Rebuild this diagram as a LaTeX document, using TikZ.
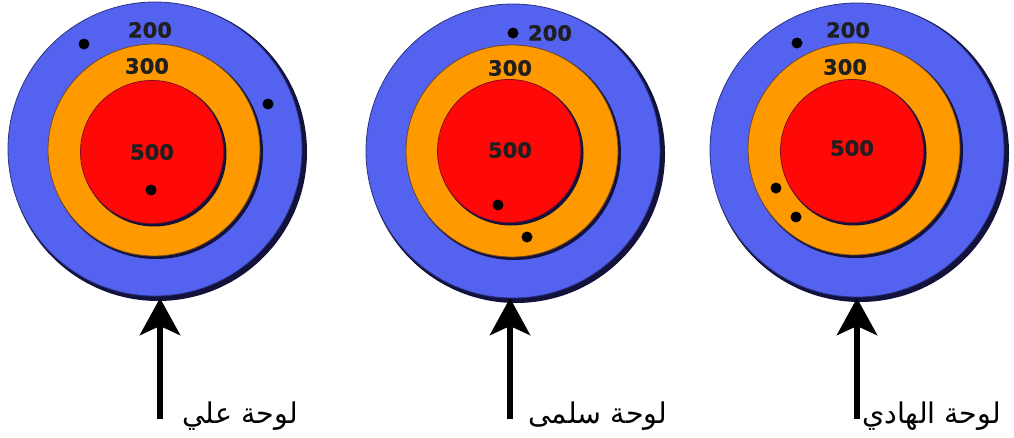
\documentclass[tikz,border=0pt]{standalone}
\usepackage{fontspec}
\usetikzlibrary{arrows.meta}
\TeXXeTstate=1
\newfontfamily\arabicfont[Script=Arabic]{DejaVu Sans}
\newfontfamily\numfont[FakeBold=0.8]{DejaVu Sans Bold}
\definecolor{ringblue}{RGB}{84,98,240}
\definecolor{ringorange}{RGB}{255,153,0}
\definecolor{ringred}{RGB}{255,8,8}
\definecolor{ringshadow}{RGB}{18,18,60}
\begin{document}
\begin{tikzpicture}[x=1pt,y=-1pt,
  blue ring/.style={circle,minimum size=294pt,inner sep=0pt,fill=ringblue,draw=ringshadow!60!ringblue,line width=0.8pt},
  orange ring/.style={circle,minimum size=212pt,inner sep=0pt,fill=ringorange,draw=ringshadow!60!ringorange,line width=0.8pt},
  red ring/.style={circle,minimum size=143pt,inner sep=0pt,fill=ringred,draw=ringshadow!50!ringred,line width=0.8pt},
  shadowdisc/.style={circle,inner sep=0pt,fill=ringshadow},
  score/.style={font=\numfont\fontsize{21}{21}\selectfont,text=black!88,inner sep=0pt},
  hit/.style={circle,fill=black,minimum size=11pt,inner sep=0pt},
  board/.style={font=\arabicfont\fontsize{28.5}{28.5}\selectfont,inner sep=0pt,anchor=base west},
  pointer/.style={line width=6.5pt,-{Stealth[length=37pt,width=40pt,inset=9pt]}}
]
\useasboundingbox (0,0) rectangle (1014,437);
% ---------- target 1 (Ali)
\node[shadowdisc,minimum size=298pt] at (158,152) {};
\node[blue ring] (t1) at (155,149) {};
\node[shadowdisc,minimum size=214pt] at (156,152) {};
\node[orange ring] (o1) at (154,150) {};
\node[shadowdisc,minimum size=145pt] at (154,154) {};
\node[red ring] (r1) at (152,152) {};
\node[score] (s1a) at (150,30) {200};
\node[score] (s1b) at (147,66) {300};
\node[score] (s1c) at (152,152) {500};
\node[hit] (h1a) at (84,44) {};
\node[hit] (h1b) at (268,104) {};
\node[hit] (h1c) at (151,190) {};
% ---------- target 2 (Salma)
\node[shadowdisc,minimum size=298pt] at (516,154) {};
\node[blue ring] (t2) at (513,151) {};
\node[shadowdisc,minimum size=214pt] at (514,153) {};
\node[orange ring] (o2) at (512,151) {};
\node[shadowdisc,minimum size=145pt] at (511,153) {};
\node[red ring] (r2) at (509,151) {};
\node[score] (s2a) at (550,33) {200};
\node[score] (s2b) at (510,68) {300};
\node[score] (s2c) at (510,150) {500};
\node[hit] (h2a) at (513,33) {};
\node[hit] (h2b) at (498,205) {};
\node[hit] (h2c) at (527,237) {};
% ---------- target 3 (Al-Hadi)
\node[shadowdisc,minimum size=298pt] at (860,153) {};
\node[blue ring] (t3) at (857,150) {};
\node[shadowdisc,minimum size=214pt] at (856,151) {};
\node[orange ring] (o3) at (854,149) {};
\node[shadowdisc,minimum size=145pt] at (854,153) {};
\node[red ring] (r3) at (852,151) {};
\node[score] (s3a) at (848,30) {200};
\node[score] (s3b) at (845,67) {300};
\node[score] (s3c) at (852,148) {500};
\node[hit] (h3a) at (797,43) {};
\node[hit] (h3b) at (776,188) {};
\node[hit] (h3c) at (796,217) {};
% ---------- arrows and labels
\coordinate (a1) at (160,419);
\coordinate (a2) at (510,419);
\coordinate (a3) at (857,419);
\coordinate (e1) at (160,298);
\coordinate (e2) at (510,298);
\coordinate (e3) at (857,298);
\draw[pointer] (a1) -- (e1);
\draw[pointer] (a2) -- (e2);
\draw[pointer] (a3) -- (e3);
\node[board] (l1) at (182,423) {\beginR لوحة علي\endR};
\node[board] (l2) at (528,423) {\beginR لوحة سلمى\endR};
\node[board] (l3) at (862,423) {\beginR لوحة الهادي\endR};
\end{tikzpicture}
\end{document}
